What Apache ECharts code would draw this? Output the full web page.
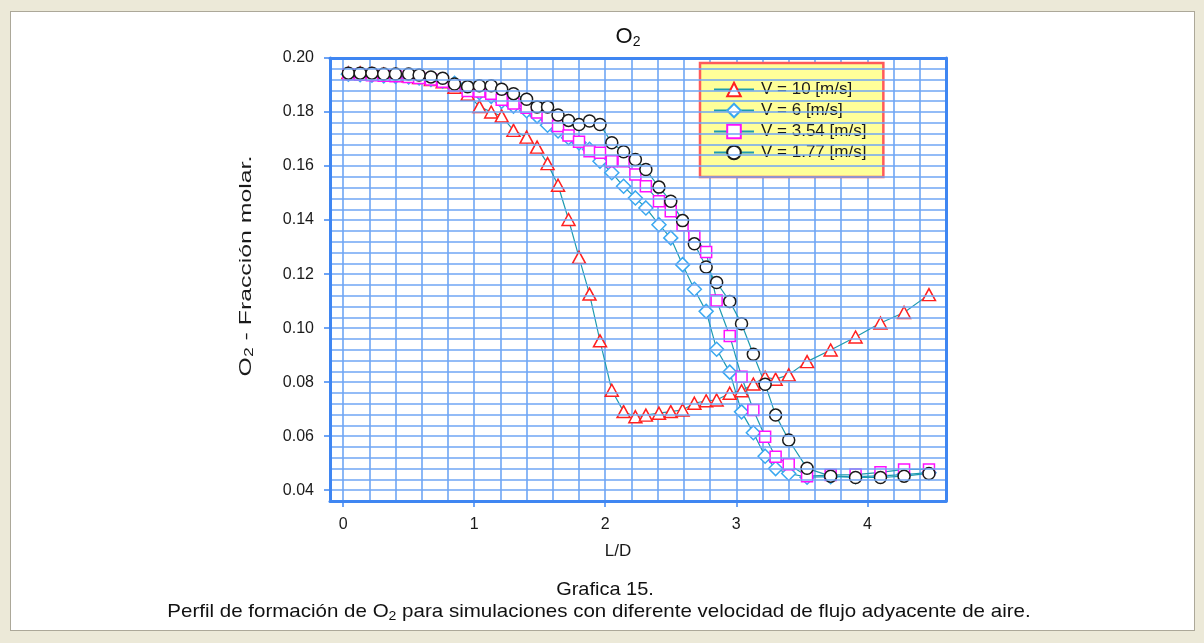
<!DOCTYPE html>
<html>
<head>
<meta charset="utf-8">
<title>O2 - Fracción molar</title>
<script src="https://cdn.jsdelivr.net/npm/echarts@6/dist/echarts.min.js"></script>
<style>
  html, body { margin: 0; padding: 0; background: #ECE9D8; }
  #panel { position: absolute; left: 10px; top: 11px; width: 1183px; height: 618px; background: #fff; border: 1px solid #ACA899; }
  #chart { position: absolute; left: 0; top: 0; width: 1204px; height: 643px; }
</style>
</head>
<body>
<div id="panel"></div>
<div id="chart"></div>
<script>
// Axial position along the jet (L/D), shared by all four runs
const LD = [0.04, 0.13, 0.22, 0.31, 0.40, 0.50, 0.58, 0.67, 0.76, 0.85,
            0.95, 1.04, 1.13, 1.21, 1.30, 1.40, 1.48, 1.56, 1.64, 1.72, 1.80, 1.88, 1.96,
            2.05, 2.14, 2.23, 2.31, 2.41, 2.50, 2.59, 2.68, 2.77, 2.85, 2.95, 3.04, 3.13,
            3.22, 3.30, 3.40, 3.54, 3.72, 3.91, 4.10, 4.28, 4.47];

// O2 molar fraction for each co-flow air velocity
const V10 = [0.1945, 0.1945, 0.1942, 0.1940, 0.1938, 0.1934, 0.1928, 0.1920, 0.1912, 0.1892,
             0.1866, 0.1820, 0.1800, 0.1785, 0.1732, 0.1707, 0.1670, 0.1609, 0.1529, 0.1402, 0.1262, 0.1126, 0.0953,
             0.0770, 0.0691, 0.0672, 0.0678, 0.0685, 0.0691, 0.0697, 0.0722, 0.0731, 0.0734, 0.0759, 0.0768, 0.0793,
             0.0818, 0.0811, 0.0827, 0.0876, 0.0919, 0.0967, 0.1019, 0.1058, 0.1124];
const V6 = [0.1940, 0.1938, 0.1936, 0.1934, 0.1932, 0.1930, 0.1926, 0.1921, 0.1914, 0.1906,
            0.1885, 0.1872, 0.1858, 0.1840, 0.1822, 0.1805, 0.1785, 0.1751, 0.1730, 0.1705, 0.1686, 0.1662, 0.1618,
            0.1575, 0.1525, 0.1482, 0.1445, 0.1383, 0.1334, 0.1235, 0.1144, 0.1062, 0.0922, 0.0837, 0.0690, 0.0613,
            0.0526, 0.0480, 0.0462, 0.0448, 0.0450, 0.0450, 0.0453, 0.0458, 0.0465];
const V354 = [0.1940, 0.1938, 0.1936, 0.1934, 0.1932, 0.1930, 0.1926, 0.1920, 0.1912, 0.1898,
              0.1878, 0.1876, 0.1868, 0.1845, 0.1832, 0.1816, 0.1798, 0.1779, 0.1748, 0.1713, 0.1690, 0.1655, 0.1649,
              0.1618, 0.1618, 0.1569, 0.1525, 0.1470, 0.1433, 0.1381, 0.1340, 0.1282, 0.1102, 0.0971, 0.0820, 0.0697,
              0.0598, 0.0524, 0.0496, 0.0452, 0.0456, 0.0458, 0.0466, 0.0477, 0.0477];
const V177 = [0.1944, 0.1944, 0.1944, 0.1941, 0.1941, 0.1941, 0.1937, 0.1930, 0.1925, 0.1904,
              0.1894, 0.1897, 0.1897, 0.1884, 0.1868, 0.1847, 0.1819, 0.1819, 0.1789, 0.1769, 0.1754, 0.1767, 0.1754,
              0.1686, 0.1653, 0.1624, 0.1587, 0.1522, 0.1470, 0.1398, 0.1312, 0.1226, 0.1169, 0.1099, 0.1016, 0.0903,
              0.0792, 0.0678, 0.0586, 0.0481, 0.0452, 0.0447, 0.0447, 0.0452, 0.0462];

const SERIES_NAMES = ['V = 10 [m/s]', 'V = 6 [m/s]', 'V = 3.54 [m/s]', 'V = 1.77 [m/s]'];

// Axis ranges and tick steps
const X_MIN = -0.1, X_MAX = 4.6, X_GRID_STEP = 0.2, X_LABEL_MAX = 4, X_LABEL_STEP = 1;
const Y_MIN = 0.036, Y_MAX = 0.20, Y_GRID_STEP = 0.004, Y_LABEL_MIN = 0.04, Y_LABEL_STEP = 0.02;

// Plot frame in pixels
const PL = 330, PT = 58, PW = 616, PH = 443;
const pxX = PW / (X_MAX - X_MIN);
const pxY = PH / (Y_MAX - Y_MIN);

const FONT = 'Liberation Sans, Arial, sans-serif';
const LINE = '#1E9BB0';
const FRAME = '#3F86F2';
const GRIDLINE = '#6FA6F4';

const chart = echarts.init(document.getElementById('chart'), null, { renderer: 'canvas' });

const hidden = { show: false };
function frameAxis(extra) {
  return Object.assign({
    type: 'value', gridIndex: 0, min: null, max: null,
    axisLine: { show: true, onZero: false, lineStyle: { color: FRAME, width: 3 } },
    axisTick: hidden, axisLabel: hidden, splitLine: hidden, z: 5
  }, extra);
}

function series(name, values, symbol, size, stroke) {
  return {
    name, type: 'line', xAxisIndex: 0, yAxisIndex: 0,
    data: LD.map((x, i) => [x, values[i]]),
    symbol, symbolSize: size, showAllSymbol: true,
    lineStyle: { color: LINE, width: 1.2 },
    itemStyle: { color: '#FFFFFF', borderColor: stroke, borderWidth: 1.5 },
    emphasis: { disabled: true },
    animation: false, z: 3
  };
}

const option = {
  animation: false,
  grid: [
    // 0: plot area with frame
    { left: PL, top: PT, width: PW, height: PH, containLabel: false },
    // 1: vertical grid lines (start at L/D = 0)
    { left: PL - X_MIN * pxX, top: PT, width: X_MAX * pxX, height: PH, containLabel: false },
    // 2: x tick labels 0..4
    { left: PL - X_MIN * pxX, top: PT, width: X_LABEL_MAX * pxX, height: PH, containLabel: false },
    // 3: y tick labels 0.04..0.20
    { left: PL, top: PT, width: PW, height: (Y_MAX - Y_LABEL_MIN) * pxY, containLabel: false }
  ],
  xAxis: [
    frameAxis({ gridIndex: 0, position: 'bottom', min: X_MIN, max: X_MAX }),
    frameAxis({ gridIndex: 0, position: 'top', min: X_MIN, max: X_MAX }),
    { type: 'value', gridIndex: 1, min: 0, max: X_MAX, interval: X_GRID_STEP,
      axisLine: hidden, axisTick: hidden, axisLabel: hidden,
      splitLine: { show: true, lineStyle: { color: GRIDLINE, width: 1.6 } } },
    { type: 'value', gridIndex: 2, min: 0, max: X_LABEL_MAX, interval: X_LABEL_STEP,
      axisLine: { show: false, onZero: false },
      axisTick: { show: true, inside: false, length: 6, lineStyle: { color: FRAME, width: 1.5 } },
      axisLabel: { show: true, margin: 16, fontSize: 16, color: '#1a1a1a', fontFamily: FONT },
      splitLine: hidden },
    { type: 'value', gridIndex: 3, min: 0, max: 1, show: false }
  ],
  yAxis: [
    frameAxis({ gridIndex: 0, position: 'left', min: Y_MIN, max: Y_MAX, interval: Y_GRID_STEP,
      splitLine: { show: true, lineStyle: { color: GRIDLINE, width: 1.6 } } }),
    frameAxis({ gridIndex: 0, position: 'right', min: Y_MIN, max: Y_MAX }),
    { type: 'value', gridIndex: 1, min: Y_MIN, max: Y_MAX, show: false },
    { type: 'value', gridIndex: 2, min: Y_MIN, max: Y_MAX, show: false },
    { type: 'value', gridIndex: 3, min: Y_LABEL_MIN, max: Y_MAX, interval: Y_LABEL_STEP,
      axisLine: { show: false, onZero: false },
      axisTick: { show: true, inside: false, length: 6, lineStyle: { color: FRAME, width: 1.5 } },
      axisLabel: { show: true, margin: 16, fontSize: 16, color: '#1a1a1a', fontFamily: FONT,
                   formatter: v => v.toFixed(2) },
      splitLine: hidden }
  ],
  legend: {
    data: SERIES_NAMES,
    orient: 'vertical', left: 700, top: 63,
    padding: [18, 17, 16, 13],
    itemWidth: 40, itemHeight: 17, itemGap: 4,
    backgroundColor: '#FFFF99', borderColor: '#FF5A5A', borderWidth: 2.5,
    textStyle: { fontSize: 17, fontFamily: FONT, color: '#1a1a1a', padding: [0, 0, 0, 2] },
    selectedMode: false
  },
  series: [
    series(SERIES_NAMES[0], V10, 'triangle', [13, 12], '#FF2020'),
    series(SERIES_NAMES[1], V6, 'diamond', 14, '#3AA8F0'),
    series(SERIES_NAMES[2], V354, 'rect', 11, '#FF10FF'),
    series(SERIES_NAMES[3], V177, 'circle', 12, '#1A1A1A')
  ],
  graphic: [
    { type: 'text', x: 628, y: 37, z: 10,
      style: { text: '{a|O}{b|2}', textAlign: 'center', textVerticalAlign: 'middle', fill: '#111',
        rich: { a: { fontSize: 22, fontFamily: FONT, fill: '#111' },
                b: { fontSize: 14, fontFamily: FONT, fill: '#111', padding: [10, 0, 0, 0] } } } },
    { type: 'text', x: 246, y: 266, rotation: Math.PI / 2, scaleX: 1.46, z: 10,
      style: { text: '{a|O}{b|2}{a| - Fracción molar.}', textAlign: 'center', textVerticalAlign: 'middle',
        rich: { a: { fontSize: 17, fontFamily: FONT, fill: '#1a1a1a' },
                b: { fontSize: 12, fontFamily: FONT, fill: '#1a1a1a', padding: [8, 0, 0, 0] } } } },
    { type: 'text', x: 618, y: 551, z: 10,
      style: { text: 'L/D', textAlign: 'center', textVerticalAlign: 'middle', fontSize: 17, fontFamily: FONT, fill: '#1a1a1a' } },
    { type: 'text', x: 605, y: 590, scaleX: 1.08, z: 10,
      style: { text: 'Grafica 15.', textAlign: 'center', textVerticalAlign: 'middle', fontSize: 18.5, fontFamily: FONT, fill: '#111' } },
    { type: 'text', x: 599, y: 612, scaleX: 1.08, z: 10,
      style: { text: '{a|Perfil de formación de O}{b|2}{a| para simulaciones con diferente velocidad de flujo adyacente de aire.}',
        textAlign: 'center', textVerticalAlign: 'middle',
        rich: { a: { fontSize: 19, fontFamily: FONT, fill: '#111' },
                b: { fontSize: 13, fontFamily: FONT, fill: '#111', padding: [8, 0, 0, 0] } } } }
  ]
};

chart.setOption(option);
</script>
</body>
</html>
